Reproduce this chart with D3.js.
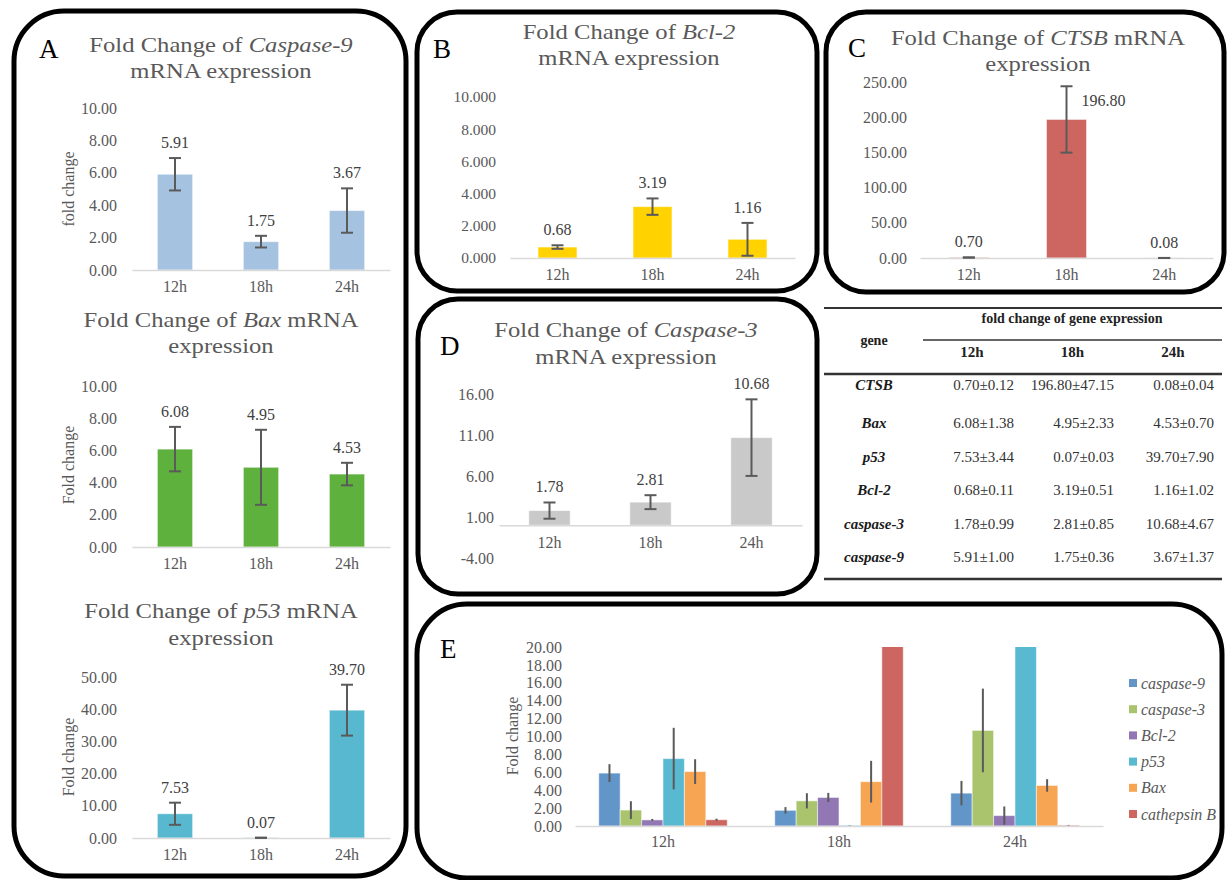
<!DOCTYPE html>
<html><head><meta charset="utf-8">
<script src="https://cdn.jsdelivr.net/npm/d3@7"></script>
<style>
html,body{margin:0;padding:0;background:#fff;}
svg{display:block;}
</style></head><body>
<svg id="fig" width="1228" height="880"></svg>
<script>
// ---------- data ----------
const timePoints = ["12h", "18h", "24h"];
const caspase9Values = [5.91, 1.75, 3.67];
const caspase9Errors = [1.00, 0.36, 1.37];
const baxValues = [6.08, 4.95, 4.53];
const baxErrors = [1.38, 2.33, 0.70];
const p53Values = [7.53, 0.07, 39.70];
const p53Errors = [3.44, 0.03, 7.90];
const bcl2Values = [0.68, 3.19, 1.16];
const bcl2Errors = [0.11, 0.51, 1.02];
const caspase3Values = [1.78, 2.81, 10.68];
const caspase3Errors = [0.99, 0.85, 4.67];
const ctsbValues = [0.70, 196.80, 0.08];
const ctsbErrors = [0.12, 47.15, 0.04];

const ticksCaspase9 = [0, 2, 4, 6, 8, 10];
const ticksBax = [0, 2, 4, 6, 8, 10];
const ticksP53 = [0, 10, 20, 30, 40, 50];
const ticksBcl2 = [0, 2, 4, 6, 8, 10];
const ticksCtsb = [0, 50, 100, 150, 200, 250];
const ticksCaspase3 = [-4, 1, 6, 11, 16];
const ticksCombined = [0, 2, 4, 6, 8, 10, 12, 14, 16, 18, 20];

const combinedSeries = ["caspase-9", "caspase-3", "Bcl-2", "p53", "Bax", "cathepsin B"];
const tableGenes = ["CTSB", "Bax", "p53", "Bcl-2", "caspase-3", "caspase-9"];
const tableHeader = "fold change of gene expression";

// ---------- drawing ----------
const svg = d3.select("#fig");
const FONT = '"Liberation Serif","Times New Roman",serif';
const GRAY = "#595959";
const ERR = "#5a5a5a";

function drawBox(x, y, w, h, r) {
  svg.append("rect").attr("x", x).attr("y", y).attr("width", w).attr("height", h)
    .attr("rx", r).attr("ry", r).attr("fill", "none").attr("stroke", "#000").attr("stroke-width", 5);
}
function drawLetter(t, x, y) {
  svg.append("text").attr("x", x).attr("y", y).attr("font-family", FONT)
    .attr("font-size", 27).attr("fill", "#000").text(t);
}
function drawTitle(cx, ys, lines) {
  lines.forEach((parts, i) => {
    const t = svg.append("text").attr("transform", `translate(${cx},${ys[i]}) scale(1.12,1)`)
      .attr("text-anchor", "middle").attr("font-family", FONT).attr("font-size", 22).attr("fill", GRAY);
    parts.forEach(p => t.append("tspan").attr("font-style", p[1] ? "italic" : "normal").text(p[0]));
  });
}
function drawYTitle(text, x, y) {
  svg.append("text").attr("transform", `translate(${x},${y}) rotate(-90)`).attr("text-anchor", "middle")
    .attr("dy", "0.35em").attr("font-family", FONT).attr("font-size", 16).attr("fill", GRAY).text(text);
}

function drawBarChart(o) {
  const g = svg.append("g");
  const x = d3.scaleBand().domain(timePoints).range(o.xr).paddingInner(0.59).paddingOuter(0.295);
  const y = d3.scaleLinear().domain(o.yd).range(o.yr);
  const y0 = y(0);
  const data = timePoints.map((t, i) => ({ t, v: o.values[i], e: o.errors[i] }));
  g.selectAll("rect.bar").data(data).join("rect").attr("class", "bar")
    .attr("x", d => x(d.t)).attr("width", x.bandwidth())
    .attr("y", d => y(d.v)).attr("height", d => y0 - y(d.v))
    .attr("fill", o.color).attr("stroke", "#fff").attr("stroke-opacity", 0.5).attr("stroke-width", 1);

  g.append("g").attr("transform", `translate(${o.tickX},0)`)
    .call(d3.axisLeft(y).tickValues(o.ticks).tickSize(0).tickPadding(0).tickFormat(d => d.toFixed(o.dec)))
    .call(a => a.select(".domain").remove())
    .attr("font-family", FONT).attr("font-size", o.fs || 16)
    .selectAll("text").attr("fill", GRAY);

  g.append("g").attr("transform", `translate(0,${y0})`)
    .call(d3.axisBottom(x).tickSize(0).tickSizeOuter(0).tickPadding(11))
    .attr("font-family", FONT).attr("font-size", 16)
    .call(a => a.select(".domain").attr("stroke", "#d9d9d9").attr("stroke-width", 1.5))
    .selectAll("text").attr("fill", GRAY);

  const cap = 6;
  data.forEach((d, i) => {
    const cx = x(d.t) + x.bandwidth() / 2;
    const yt = y(d.v + d.e), yb = y(d.v - d.e);
    const eg = g.append("g").attr("stroke", ERR).attr("stroke-width", 2);
    eg.append("line").attr("x1", cx).attr("x2", cx).attr("y1", yt).attr("y2", yb);
    eg.append("line").attr("x1", cx - cap).attr("x2", cx + cap).attr("y1", yt).attr("y2", yt);
    eg.append("line").attr("x1", cx - cap).attr("x2", cx + cap).attr("y1", yb).attr("y2", yb);
    const beside = o.besideIndex === i;
    g.append("text")
      .attr("x", beside ? cx + 37 : cx)
      .attr("y", beside ? y(d.v) - 13 : yt - 10)
      .attr("text-anchor", "middle").attr("font-family", FONT).attr("font-size", 16)
      .attr("fill", "#404040").text(d.v.toFixed(2));
  });
}

// ---------- boxes ----------
drawBox(14, 11, 392, 865, 50);
drawBox(417, 12, 400, 279, 40);
drawBox(826, 12, 398, 280, 40);
drawBox(418, 299, 399, 295, 40);
drawBox(417, 604, 805, 274, 50);

drawLetter("A", 39, 58);
drawLetter("B", 433, 58);
drawLetter("C", 848, 57);
drawLetter("D", 440, 355);
drawLetter("E", 440, 658);

// ---------- panel A ----------
drawTitle(221, [52, 78], [[["Fold Change of ", false], ["Caspase-9", true]], [["mRNA expression", false]]]);
drawYTitle("fold change", 68, 189);
drawBarChart({ values: caspase9Values, errors: caspase9Errors, ticks: ticksCaspase9, dec: 2,
  xr: [132, 390], yd: [0, 10], yr: [270, 108], tickX: 117, color: "#a5c3e0" });

drawTitle(221, [327, 353], [[["Fold Change of ", false], ["Bax", true], [" mRNA", false]], [["expression", false]]]);
drawYTitle("Fold change", 68, 465);
drawBarChart({ values: baxValues, errors: baxErrors, ticks: ticksBax, dec: 2,
  xr: [132, 390], yd: [0, 10], yr: [547, 386], tickX: 117, color: "#5fb13e" });

drawTitle(221, [618, 645], [[["Fold Change of ", false], ["p53", true], [" mRNA", false]], [["expression", false]]]);
drawYTitle("Fold change", 68, 757);
drawBarChart({ values: p53Values, errors: p53Errors, ticks: ticksP53, dec: 2,
  xr: [132, 390], yd: [0, 50], yr: [838, 677], tickX: 117, color: "#58b8cf" });

// ---------- panel B ----------
drawTitle(629, [39, 65], [[["Fold Change of ", false], ["Bcl-2", true]], [["mRNA expression", false]]]);
drawBarChart({ values: bcl2Values, errors: bcl2Errors, ticks: ticksBcl2, dec: 3,
  xr: [510, 795], yd: [0, 10], yr: [258, 97], tickX: 496, color: "#ffd200", fs: 15.5 });

// ---------- panel C ----------
drawTitle(1038, [45, 71], [[["Fold Change of ", false], ["CTSB", true], [" mRNA", false]], [["expression", false]]]);
drawBarChart({ values: ctsbValues, errors: ctsbErrors, ticks: ticksCtsb, dec: 2,
  xr: [920, 1213], yd: [0, 250], yr: [258, 82], tickX: 907, color: "#cd6661", besideIndex: 1 });

// ---------- panel D ----------
drawTitle(626, [337, 364], [[["Fold Change of ", false], ["Caspase-3", true]], [["mRNA expression", false]]]);
drawBarChart({ values: caspase3Values, errors: caspase3Errors, ticks: ticksCaspase3, dec: 2,
  xr: [499, 802], yd: [-4, 16], yr: [558, 394], tickX: 494, color: "#c9c9c9" });

// ---------- table ----------
(function () {
  const g = svg.append("g").attr("font-family", FONT);
  const line = (x1, x2, y, w) => g.append("line").attr("x1", x1).attr("x2", x2).attr("y1", y).attr("y2", y)
    .attr("stroke", "#333").attr("stroke-width", w);
  line(824, 1222, 308, 2);
  line(923, 1222, 340, 1.5);
  line(824, 1222, 374, 2.5);
  line(824, 1222, 579, 2.5);
  g.append("text").attr("x", 1072).attr("y", 323).attr("text-anchor", "middle").attr("font-size", 14)
    .attr("font-weight", "bold").attr("fill", "#222").text(tableHeader);
  g.append("text").attr("x", 874).attr("y", 345).attr("text-anchor", "middle").attr("font-size", 14)
    .attr("font-weight", "bold").attr("fill", "#222").text("gene");
  const colCenter = d3.scalePoint().domain(timePoints).range([972, 1173]);
  timePoints.forEach(t => g.append("text").attr("x", colCenter(t)).attr("y", 357).attr("text-anchor", "middle")
    .attr("font-size", 15).attr("font-weight", "bold").attr("fill", "#222").text(t));
  const geneData = {
    "CTSB": [ctsbValues, ctsbErrors], "Bax": [baxValues, baxErrors], "p53": [p53Values, p53Errors],
    "Bcl-2": [bcl2Values, bcl2Errors], "caspase-3": [caspase3Values, caspase3Errors],
    "caspase-9": [caspase9Values, caspase9Errors]
  };
  const rowY = i => i === 0 ? 390 : 428 + (i - 1) * 33.5;
  const colRight = d3.scalePoint().domain(timePoints).range([1014, 1214]);
  tableGenes.forEach((gname, i) => {
    g.append("text").attr("x", 874).attr("y", rowY(i)).attr("text-anchor", "middle").attr("font-size", 15)
      .attr("font-weight", "bold").attr("font-style", "italic").attr("fill", "#1a1a1a").text(gname);
    const [vals, errs] = geneData[gname];
    timePoints.forEach((t, j) => g.append("text").attr("x", colRight(t)).attr("y", rowY(i))
      .attr("text-anchor", "end").attr("font-size", 15).attr("fill", "#333")
      .text(vals[j].toFixed(2) + "\u00b1" + errs[j].toFixed(2)));
  });
})();

// ---------- panel E ----------
(function () {
  const seriesValues = [caspase9Values, caspase3Values, bcl2Values, p53Values, baxValues, ctsbValues];
  const seriesErrors = [caspase9Errors, caspase3Errors, bcl2Errors, p53Errors, baxErrors, ctsbErrors];
  const colors = ["#6296c9", "#aac46d", "#9178b4", "#58b9d0", "#f8a553", "#cd6560"];
  const color = d3.scaleOrdinal().domain(combinedSeries).range(colors);
  const g = svg.append("g");
  const x0 = d3.scaleBand().domain(timePoints).range([575, 1103]).paddingInner(0.27).paddingOuter(0.135);
  const x1 = d3.scaleBand().domain(combinedSeries).range([0, x0.bandwidth()]);
  const y = d3.scaleLinear().domain([0, 20]).range([826, 647]);
  svg.append("clipPath").attr("id", "clipE").append("rect")
    .attr("x", 570).attr("y", y(20)).attr("width", 540).attr("height", y(0) - y(20));
  const data = [];
  timePoints.forEach((t, i) => combinedSeries.forEach((s, k) =>
    data.push({ t, s, v: seriesValues[k][i], e: seriesErrors[k][i] })));
  const plot = g.append("g").attr("clip-path", "url(#clipE)");
  plot.selectAll("rect").data(data).join("rect")
    .attr("x", d => x0(d.t) + x1(d.s)).attr("width", x1.bandwidth())
    .attr("y", d => y(d.v)).attr("height", d => y(0) - y(d.v))
    .attr("fill", d => color(d.s)).attr("stroke", "#fff").attr("stroke-opacity", 0.5).attr("stroke-width", 1);
  plot.selectAll("line.err").data(data).join("line").attr("class", "err")
    .attr("x1", d => x0(d.t) + x1(d.s) + x1.bandwidth() / 2).attr("x2", d => x0(d.t) + x1(d.s) + x1.bandwidth() / 2)
    .attr("y1", d => y(d.v + d.e)).attr("y2", d => y(d.v - d.e))
    .attr("stroke", ERR).attr("stroke-width", 2);

  g.append("g").attr("transform", "translate(562,0)")
    .call(d3.axisLeft(y).tickValues(ticksCombined).tickSize(0).tickPadding(0).tickFormat(d => d.toFixed(2)))
    .call(a => a.select(".domain").remove())
    .attr("font-family", FONT).attr("font-size", 16)
    .selectAll("text").attr("fill", GRAY);
  g.append("g").attr("transform", `translate(0,${y(0)})`)
    .call(d3.axisBottom(x0).tickSize(0).tickSizeOuter(0).tickPadding(10))
    .attr("font-family", FONT).attr("font-size", 16)
    .call(a => a.select(".domain").attr("stroke", "#d9d9d9").attr("stroke-width", 1.5))
    .selectAll("text").attr("fill", GRAY);
  drawYTitle("Fold change", 512, 736);

  const leg = g.append("g").attr("font-family", FONT);
  combinedSeries.forEach((s, k) => {
    const ly = 683 + k * 26.2;
    leg.append("rect").attr("x", 1129).attr("y", ly - 4).attr("width", 8).attr("height", 8).attr("fill", color(s));
    leg.append("text").attr("x", 1141).attr("y", ly).attr("dy", "0.35em").attr("font-size", 16)
      .attr("font-style", "italic").attr("fill", GRAY).text(s);
  });
})();
</script>
</body></html>
